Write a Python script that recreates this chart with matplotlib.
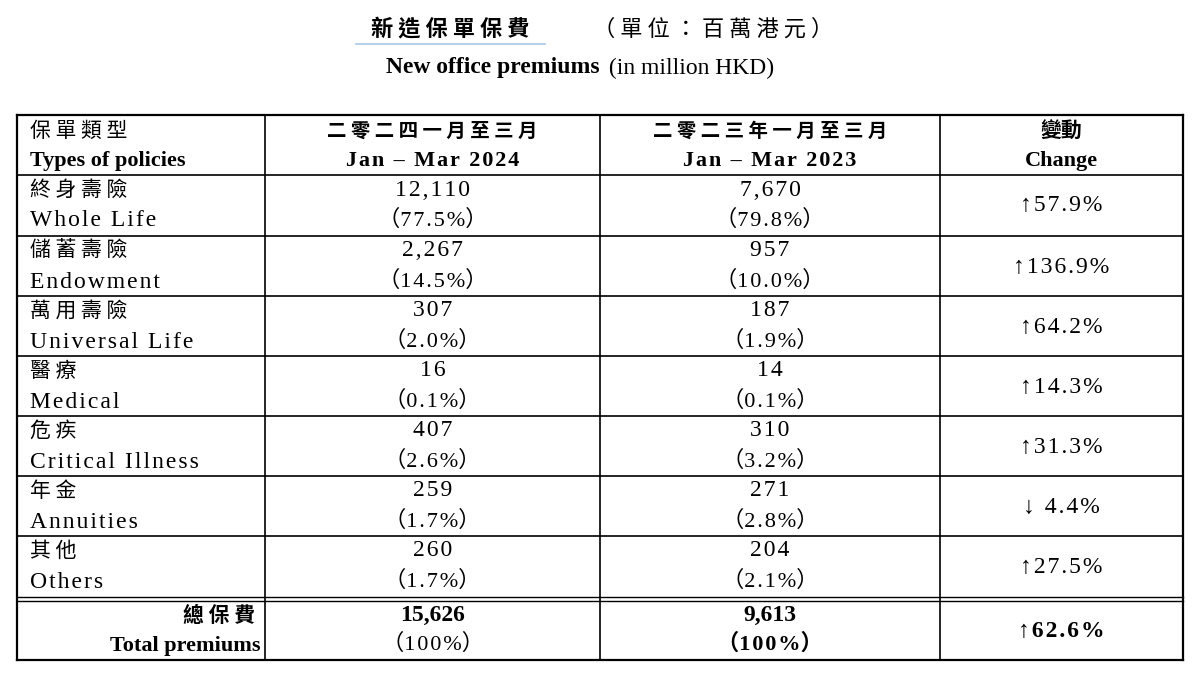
import matplotlib
matplotlib.use("Agg")
import matplotlib.pyplot as plt
from matplotlib.lines import Line2D

cats_zh = ["終身壽險", "儲蓄壽險", "萬用壽險", "醫療", "危疾", "年金", "其他"]
cats_en = ["Whole Life", "Endowment", "Universal Life", "Medical", "Critical Illness", "Annuities", "Others"]
v2024 = ["12,110", "2,267", "307", "16", "407", "259", "260"]
p2024 = ["77.5%", "14.5%", "2.0%", "0.1%", "2.6%", "1.7%", "1.7%"]
v2023 = ["7,670", "957", "187", "14", "310", "271", "204"]
p2023 = ["79.8%", "10.0%", "1.9%", "0.1%", "3.2%", "2.8%", "2.1%"]
change = ["↑57.9%", "↑136.9%", "↑64.2%", "↑14.3%", "↑31.3%", "↓ 4.4%", "↑27.5%"]
total = ["15,626", "100%", "9,613", "100%", "↑62.6%"]

W, H = 1200, 699
fig = plt.figure(figsize=(W/100, H/100), dpi=100)
ax = fig.add_axes([0, 0, 1, 1])
ax.set_xlim(0, W); ax.set_ylim(H, 0); ax.axis("off")

ZH = ["Noto Sans CJK TC", "DejaVu Sans"]
EN = ["Liberation Serif", "DejaVu Serif"]
MIX = ["Liberation Serif", "Noto Sans CJK TC", "DejaVu Sans"]

def sp(s):
    return "\u200a".join(s)

def t(x, y, s, fam, size=15, ha="center", weight="normal"):
    ax.text(x, y, s, family=fam, fontsize=size, ha=ha, va="center", weight=weight, color="black")

# title
t(450, 29, " ".join("新造保單保費"), ZH, 16, weight="bold")
t(713, 29, " ".join("（單位：百萬港元）"), ZH, 16)
ax.add_line(Line2D([356, 545], [44, 44], color="#a8c8e8", lw=1.2))
t(600, 68, "New office premiums", EN, 17, weight="bold", ha="right")
t(603, 68, " (in million HKD)", EN, 17, ha="left")

xs = [17, 265, 600, 940, 1183]
ys = [115, 175, 236, 296, 356, 416, 476, 536, 597]
ytot1 = 660
lw = 1.2
for y in ys[:-1]:
    ax.add_line(Line2D([xs[0], xs[-1]], [y, y], color="black", lw=lw if y != 115 else 1.6))
ax.add_line(Line2D([xs[0], xs[-1]], [597, 597], color="black", lw=1))
ax.add_line(Line2D([xs[0], xs[-1]], [601, 601], color="black", lw=1))
ax.add_line(Line2D([xs[0], xs[-1]], [ytot1, ytot1], color="black", lw=1.6))
for i, x in enumerate(xs):
    ax.add_line(Line2D([x, x], [115, ytot1], color="black", lw=1.6 if i in (0, 4) else lw))

cx = [(xs[i] + xs[i+1]) / 2 for i in range(4)]
# header
t(30, 131, " ".join("保單類型"), ZH, 15, ha="left")
t(30, 161, "Types of policies", EN, 16, ha="left", weight="bold")
t(cx[1], 131, " ".join("二零二四一月至三月"), ZH, 14, weight="bold")
t(cx[1], 161, sp("Jan – Mar 2024"), EN, 16, weight="bold")
t(cx[2], 131, " ".join("二零二三年一月至三月"), ZH, 14, weight="bold")
t(cx[2], 161, sp("Jan – Mar 2023"), EN, 16, weight="bold")
t(cx[3], 131, "變動", ZH, 15, weight="bold")
t(cx[3], 161, "Change", EN, 16, weight="bold")

for i in range(len(cats_zh)):
    y0 = ys[i+1]
    t(30, y0 + 15, " ".join(cats_zh[i]), ZH, 15, ha="left")
    t(30, y0 + 46, sp(cats_en[i]), EN, 17, ha="left")
    t(cx[1], y0 + 15, sp(v2024[i]), EN, 17)
    t(cx[1], y0 + 45, "（" + sp(p2024[i]) + "）", MIX, 16)
    t(cx[2], y0 + 15, sp(v2023[i]), EN, 17)
    t(cx[2], y0 + 45, "（" + sp(p2023[i]) + "）", MIX, 16)
    t(cx[3], y0 + 31, sp(change[i]), MIX, 17)

t(255, 616, " ".join("總保費"), ZH, 15, ha="right", weight="bold")
t(260, 646, "Total premiums", EN, 16, ha="right", weight="bold")
t(cx[1], 615, total[0], EN, 17, weight="bold")
t(cx[1], 644, "（" + sp(total[1]) + "）", MIX, 16)
t(cx[2], 615, total[2], EN, 17, weight="bold")
t(cx[2], 644, "（" + sp(total[3]) + "）", MIX, 16, weight="bold")
t(cx[3], 631, sp(total[4]), MIX, 17, weight="bold")

fig.savefig("out.png", dpi=100, facecolor="white")
